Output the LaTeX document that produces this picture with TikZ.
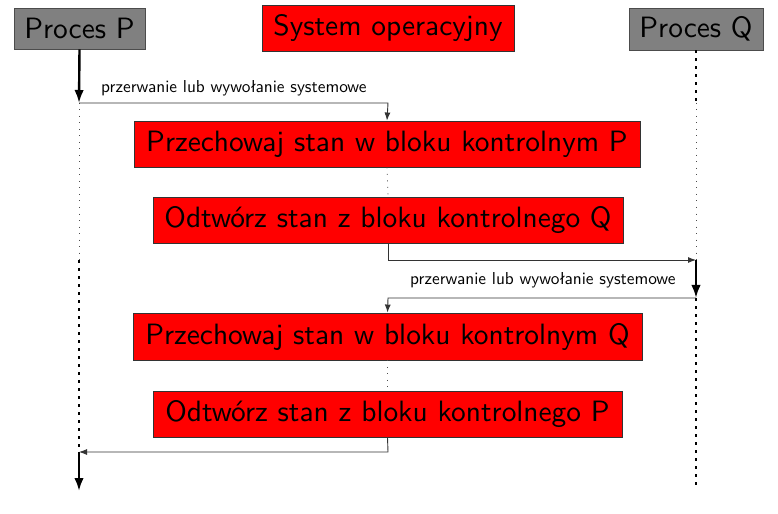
\documentclass[tikz,border=0pt]{standalone}
\usepackage{fontspec}
\newfontfamily\labfont{lmsans10-regular}[Extension=.otf]
\usetikzlibrary{arrows.meta}
\begin{document}
\begin{tikzpicture}[x=1bp,y=-1bp,
  font=\labfont,
  proc/.style={draw=black!70, fill=black!50, line width=0.9bp, inner sep=0pt, font=\labfont\fontsize{29.4bp}{33bp}\selectfont},
  sys/.style={draw=black!80, fill=red, line width=0.9bp, inner sep=0pt, font=\labfont\fontsize{29.4bp}{33bp}\selectfont},
  lab/.style={font=\labfont\fontsize{17.3bp}{20bp}\selectfont, inner sep=0pt},
  active/.style={line width=2.4bp, -{Latex[length=13bp,width=9.5bp]}},
  thinarr/.style={line width=0.9bp, draw=black!80, -{Latex[length=8bp,width=6bp]}},
  waitline/.style={line width=0.8bp, draw=black!70, dash pattern=on 0.9bp off 5.6bp},
  readyline/.style={line width=2.6bp, dash pattern=on 2.6bp off 5.4bp}]
\useasboundingbox (0,0) rectangle (778,514);
\node[proc, minimum width=131bp, minimum height=41bp] (P) at (79.5,28.5) {Proces P};
\node[sys, minimum width=252bp, minimum height=46bp] (S) at (388,28) {System operacyjny};
\node[proc, minimum width=134bp, minimum height=42bp] (Q) at (696,29) {Proces Q};
\node[sys, minimum width=506bp, minimum height=46bp] (B1) at (387,144) {Przechowaj stan w bloku kontrolnym P};
\node[sys, minimum width=470bp, minimum height=46bp] (B2) at (388,220) {Odtwórz stan z bloku kontrolnego Q};
\node[sys, minimum width=509bp, minimum height=47bp] (B3) at (387.5,336.5) {Przechowaj stan w bloku kontrolnym Q};
\node[sys, minimum width=469bp, minimum height=46bp] (B4) at (387.5,414) {Odtwórz stan z bloku kontrolnego P};
% lifeline coordinates
\coordinate (p1) at (79,103);
\coordinate (p2) at (79,260);
\coordinate (p3) at (79,452);
\coordinate (p4) at (79,491);
\coordinate (q1) at (696,103);
\coordinate (q2) at (696,260);
\coordinate (q3) at (696,298);
\coordinate (q4) at (696,490);
\coordinate (m1) at (388,103);
\coordinate (m2) at (388,260);
\coordinate (m3) at (388,298);
\coordinate (m4) at (388,452);
% Process P lifeline
\draw[active] (P.south) -- (p1);
\draw[waitline] (p1) -- (p2);
\draw[readyline] (p2) -- (p3);
\draw[active] (p3) -- (p4);
% Process Q lifeline
\draw[readyline] (Q.south) -- (q1);
\draw[waitline] (q1) -- (q2);
\draw[active] (q2) -- (q3);
\draw[readyline] (q3) -- (q4);
% OS
\draw[thinarr] (p1) -- (m1) -- (B1.north);
\draw[waitline] (B1.south) -- (B2.north);
\draw[thinarr] (B2.south) -- (m2) -- (q2);
\draw[thinarr] (q3) -- (m3) -- (B3.north);
\draw[waitline] (B3.south) -- (B4.north);
\draw[thinarr] (B4.south) -- (m4) -- (p3);
% labels
\node[lab, anchor=base west] (L1) at (101,92.5) {przerwanie lub wywołanie systemowe};
\node[lab, anchor=base west] (L2) at (410,284.5) {przerwanie lub wywołanie systemowe};
\end{tikzpicture}
\end{document}
